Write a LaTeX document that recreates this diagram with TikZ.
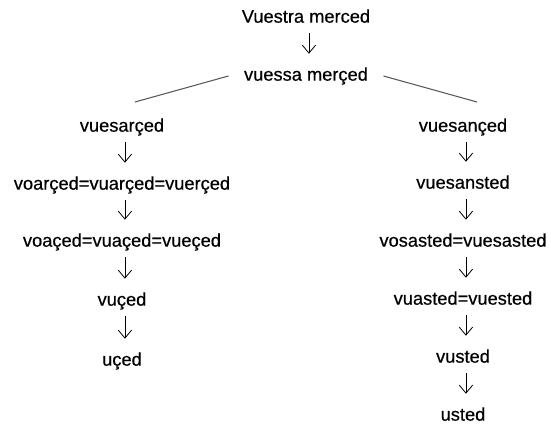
\documentclass[tikz,border=0pt]{standalone}
\usepackage{fontspec}
\setmainfont{Liberation Sans}
\newfontfamily\formfont{Liberation Sans}[FakeBold=0.5]
\usetikzlibrary{arrows.meta}

\begin{document}
\begin{tikzpicture}[x=0.75pt, y=-0.75pt,
    form/.style={inner sep=0pt, text height=10pt, text depth=3pt, font=\formfont\fontsize{13.7}{16}\selectfont},
    derive/.style={-{Straight Barb[length=6pt,width=10pt]}, line width=0.6pt, shorten <=4.7pt, shorten >=10pt, transform canvas={xshift=2.2pt}},
    branch/.style={draw=black!65, line width=0.8pt}]
    \useasboundingbox (0,0) rectangle (551,424);

    % Top
    \node[form] (vuestra) at (306,18) {Vuestra merced};
    \node[form] (vuessa) at (306,76) {vuessa merçed};

    % Left branch
    \node[form] (vuesarced) at (122,127) {vuesarçed};
    \node[form] (voarced) at (122,185) {voarçed=vuarçed=vuerçed};
    \node[form] (voaced) at (122,242) {voaçed=vuaçed=vueçed};
    \node[form] (vuced) at (122,301) {vuçed};
    \node[form] (uced) at (122,361) {uçed};

    % Right branch
    \node[form] (vuesanced) at (463,127) {vuesançed};
    \node[form] (vuesansted) at (463,184) {vuesansted};
    \node[form] (vosasted) at (463,242) {vosasted=vuesasted};
    \node[form] (vuasted) at (463,300) {vuasted=vuested};
    \node[form] (vusted) at (463,358) {vusted};
    \node[form] (usted) at (463,416) {usted};

    % Split
    \coordinate (splitL) at (135,102);
    \coordinate (splitR) at (477,102);
    \draw[branch] ([xshift=-11.5pt]vuessa.west) -- (splitL);
    \draw[branch] ([xshift=11.5pt]vuessa.east) -- (splitR);

    % Arrows
    \foreach \a/\b in {vuestra/vuessa, vuesarced/voarced, voarced/voaced, voaced/vuced, vuced/uced,
        vuesanced/vuesansted, vuesansted/vosasted, vosasted/vuasted, vuasted/vusted, vusted/usted}
        \draw[derive] (\a) -- (\b);
\end{tikzpicture}
\end{document}
